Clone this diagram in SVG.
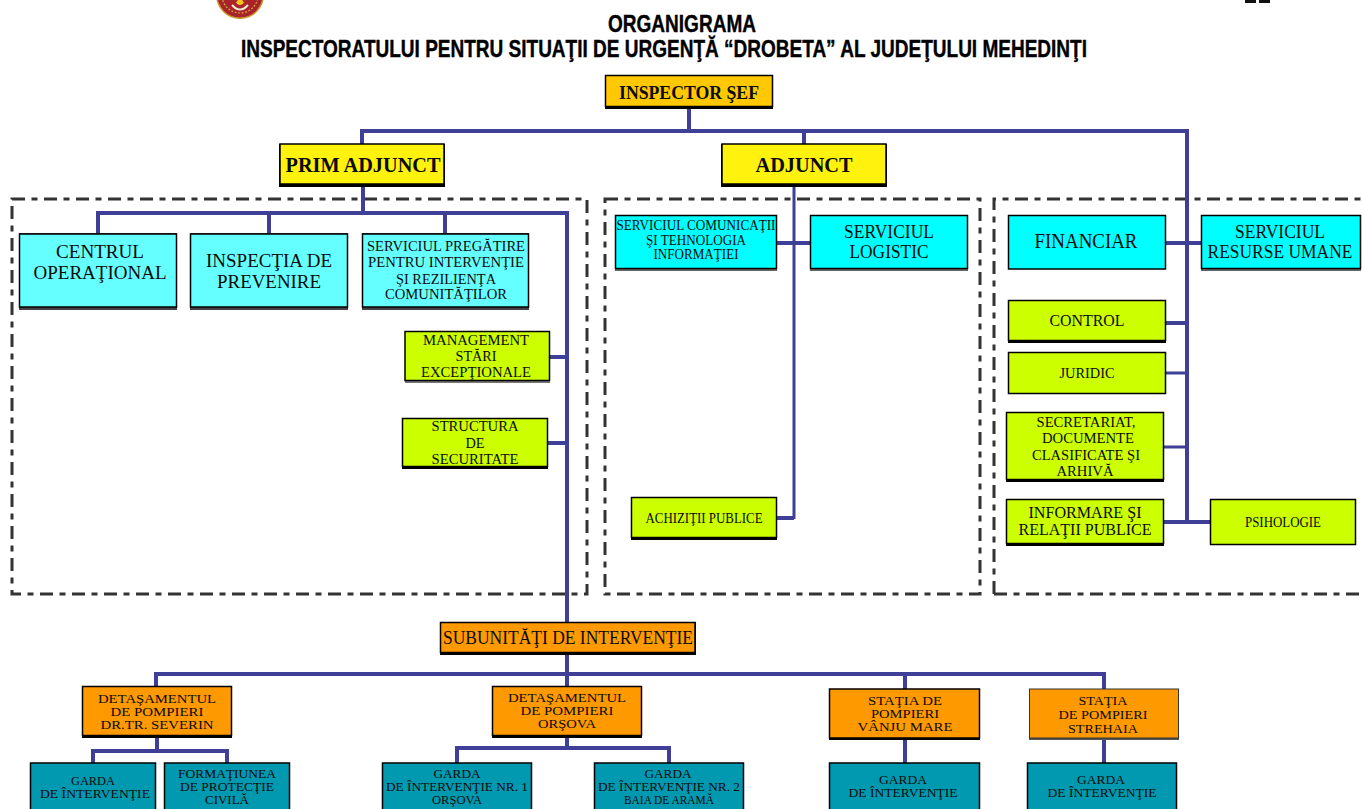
<svg xmlns="http://www.w3.org/2000/svg" width="1362" height="809" viewBox="0 0 1362 809">
<style>
text{font-family:"Liberation Serif","Times New Roman",serif;fill:#0a0a0a;text-anchor:middle}
.t{font-family:"Liberation Sans",Arial,sans-serif;font-weight:bold;font-size:24px;fill:#000;stroke:#000;stroke-width:.4}
.b{font-weight:bold}
.n{stroke:#000;stroke-width:1.5}
.s{fill:#000}
.y{fill:#fff20d}.g{fill:#ffc800}.c{fill:#66ffff}.a{fill:#00ffff}.l{fill:#ccff00}.o{fill:#ff9900}.e{fill:#0099b0}
#connectors path{fill:none;stroke:#3f3f98;stroke-width:4}
#connectors path.thin{stroke-width:3}
#frames path{fill:none;stroke:#333;stroke-width:3;stroke-dasharray:13 6.5 6 6.5}
</style>
<rect width="1362" height="809" fill="#fff"/>
<g id="emblem"><circle cx="240" cy="-5" r="24" fill="#c8962a"/><circle cx="240" cy="-5" r="22.5" fill="#a8232a"/><circle cx="240" cy="-5" r="18" fill="none" stroke="#d9a441" stroke-width="1.2" stroke-dasharray="2 1.5"/><path d="M233 -2Q240 12 247 -2L244 3L240 -4L236 3Z" fill="#f5c518"/><path d="M232 5Q240 14 248 5" fill="none" stroke="#f3ead0" stroke-width="2"/></g>
<g id="corner-mark"><rect x="1245" y="0" width="11" height="3" fill="#111"/><rect x="1259" y="0" width="11" height="3" fill="#111"/></g>
<text class="t" x="682" y="32" textLength="148" lengthAdjust="spacingAndGlyphs">ORGANIGRAMA</text>
<text class="t" x="664" y="57" textLength="846" lengthAdjust="spacingAndGlyphs">INSPECTORATULUI PENTRU SITUAŢII DE URGENŢĂ “DROBETA” AL JUDEŢULUI MEHEDINŢI</text>
<g id="frames">
<path d="M12 199H587V594H12Z"/>
<path d="M605 199H980V594H605Z"/>
<path d="M994 594V199H1362M994 594H1362"/>
</g>
<g id="connectors">
<path d="M689 108V131M362 144V131H1187V523M804 131V144"/>
<path d="M363 186V213M98 233V213H567V622M269 213V233M445 213V233"/>
<path d="M550 357H567M547 443H567"/>
<path d="M794 186V519" class="thin"/>
<path d="M777 243H810M777 518H794"/>
<path d="M1166 243H1201M1166 323H1187"/>
<path d="M1166 373H1187M1164 447H1187" class="thin"/>
<path d="M1164 522H1210"/>
<path d="M567 654V686M156 686V674H1104V689M905 674V689"/>
<path d="M157 737V751M93 763V751H227V763M567 737V748M457 763V748H669V763M905 739V763M1104 739V763"/>
</g>
<g id="inspector-sef"><rect class="s" x="605" y="76" width="168" height="33"/><rect class="n g" x="605.5" y="75.5" width="167" height="31"/><text class="b" x="689" y="99" font-size="19" textLength="140" lengthAdjust="spacingAndGlyphs">INSPECTOR ŞEF</text></g>
<g id="prim-adjunct"><rect class="s" x="279" y="144" width="166" height="43"/><rect class="n y" x="280" y="144" width="164" height="40"/><text class="b" x="363" y="172" font-size="21" textLength="155" lengthAdjust="spacingAndGlyphs">PRIM ADJUNCT</text></g>
<g id="adjunct"><rect class="s" x="721" y="144" width="166" height="43"/><rect class="n y" x="722" y="144" width="164" height="40"/><text class="b" x="804" y="172" font-size="21" textLength="97" lengthAdjust="spacingAndGlyphs">ADJUNCT</text></g>
<g id="centrul"><rect x="19" y="233" width="158" height="77" fill="#444"/><rect class="n c" x="19.5" y="234" width="157" height="73"/><text x="100" y="258" font-size="19" textLength="88" lengthAdjust="spacingAndGlyphs">CENTRUL</text><text x="100" y="279" font-size="19" textLength="133" lengthAdjust="spacingAndGlyphs">OPERAŢIONAL</text></g>
<g id="inspectia"><rect x="190" y="233" width="158" height="77" fill="#444"/><rect class="n c" x="190.5" y="234" width="157" height="73"/><text x="269" y="267" font-size="19" textLength="126" lengthAdjust="spacingAndGlyphs">INSPECŢIA DE</text><text x="269" y="288" font-size="19" textLength="104" lengthAdjust="spacingAndGlyphs">PREVENIRE</text></g>
<g id="pregatire"><rect x="362" y="233" width="167" height="77" fill="#444"/><rect class="n c" x="362.5" y="234" width="166" height="73"/><text x="446" y="251" font-size="14" textLength="158" lengthAdjust="spacingAndGlyphs">SERVICIUL PREGĂTIRE</text><text x="446" y="267" font-size="14" textLength="156" lengthAdjust="spacingAndGlyphs">PENTRU INTERVENŢIE</text><text x="446" y="284" font-size="14" textLength="100" lengthAdjust="spacingAndGlyphs">ŞI REZILIENŢA</text><text x="446" y="299" font-size="14" textLength="122" lengthAdjust="spacingAndGlyphs">COMUNITĂŢILOR</text></g>
<g id="management"><rect x="405" y="331" width="145" height="52" fill="#777"/><rect class="n l" x="405" y="331.5" width="144.5" height="49"/><text x="476" y="345" font-size="15" textLength="106" lengthAdjust="spacingAndGlyphs">MANAGEMENT</text><text x="476" y="361" font-size="15" textLength="41" lengthAdjust="spacingAndGlyphs">STĂRI</text><text x="476" y="377" font-size="15" textLength="110" lengthAdjust="spacingAndGlyphs">EXCEPŢIONALE</text></g>
<g id="structura"><rect class="s" x="402" y="418" width="146" height="51"/><rect class="n l" x="402.5" y="418.5" width="145" height="48"/><text x="475" y="431" font-size="15" textLength="87" lengthAdjust="spacingAndGlyphs">STRUCTURA</text><text x="475" y="448" font-size="15" textLength="19" lengthAdjust="spacingAndGlyphs">DE</text><text x="475" y="464" font-size="15" textLength="87" lengthAdjust="spacingAndGlyphs">SECURITATE</text></g>
<g id="comunicatii"><rect x="615" y="215" width="162" height="56" fill="#666"/><rect class="n a" x="615.5" y="215.5" width="161" height="53"/><text x="696" y="230" font-size="14" textLength="159" lengthAdjust="spacingAndGlyphs">SERVICIUL COMUNICAŢII</text><text x="696" y="244.500" font-size="14" textLength="100" lengthAdjust="spacingAndGlyphs">ŞI TEHNOLOGIA</text><text x="696" y="259" font-size="14" textLength="85" lengthAdjust="spacingAndGlyphs">INFORMAŢIEI</text></g>
<g id="logistic"><rect x="810" y="215" width="158" height="56" fill="#666"/><rect class="n a" x="810.5" y="215.5" width="157" height="53"/><text x="889" y="238" font-size="18" textLength="90" lengthAdjust="spacingAndGlyphs">SERVICIUL</text><text x="889" y="258" font-size="18" textLength="79" lengthAdjust="spacingAndGlyphs">LOGISTIC</text></g>
<g id="achizitii"><rect class="s" x="631" y="497" width="146" height="43"/><rect class="n l" x="631.5" y="497.5" width="145" height="40"/><text x="704" y="523" font-size="15" textLength="117" lengthAdjust="spacingAndGlyphs">ACHIZIŢII PUBLICE</text></g>
<g id="financiar"><rect class="n a" x="1008.5" y="215.5" width="157" height="53.5"/><text x="1086" y="248" font-size="20" textLength="103" lengthAdjust="spacingAndGlyphs">FINANCIAR</text></g>
<g id="resurse"><rect x="1201" y="215" width="160" height="56" fill="#666"/><rect class="n a" x="1201.5" y="215.5" width="159" height="53"/><text x="1280" y="238" font-size="18" textLength="90" lengthAdjust="spacingAndGlyphs">SERVICIUL</text><text x="1280" y="258" font-size="18" textLength="145" lengthAdjust="spacingAndGlyphs">RESURSE UMANE</text></g>
<g id="control"><rect class="s" x="1008" y="300" width="158" height="43"/><rect class="n l" x="1008.5" y="300.5" width="157" height="40"/><text x="1087" y="326" font-size="16" textLength="75" lengthAdjust="spacingAndGlyphs">CONTROL</text></g>
<g id="juridic"><rect class="n l" x="1008.5" y="352.5" width="157" height="41"/><text x="1087" y="378" font-size="15" textLength="55" lengthAdjust="spacingAndGlyphs">JURIDIC</text></g>
<g id="secretariat"><rect class="s" x="1006" y="412" width="158" height="70"/><rect class="n l" x="1006.5" y="412.500" width="157" height="67"/><text x="1086" y="427" font-size="15" textLength="99" lengthAdjust="spacingAndGlyphs">SECRETARIAT,</text><text x="1088" y="443" font-size="15" textLength="92" lengthAdjust="spacingAndGlyphs">DOCUMENTE</text><text x="1086" y="460" font-size="15" textLength="108" lengthAdjust="spacingAndGlyphs">CLASIFICATE ŞI</text><text x="1085" y="476" font-size="15" textLength="57" lengthAdjust="spacingAndGlyphs">ARHIVĂ</text></g>
<g id="informare"><rect class="s" x="1006" y="499" width="158" height="47"/><rect class="n l" x="1006.5" y="499.5" width="157" height="44"/><text x="1085" y="518" font-size="16" textLength="113" lengthAdjust="spacingAndGlyphs">INFORMARE ŞI</text><text x="1085" y="535" font-size="16" textLength="133" lengthAdjust="spacingAndGlyphs">RELAŢII PUBLICE</text></g>
<g id="psihologie"><rect class="n l" x="1210.5" y="499.5" width="145" height="45"/><text x="1283" y="527" font-size="15" textLength="76" lengthAdjust="spacingAndGlyphs">PSIHOLOGIE</text></g>
<g id="subunitati"><rect class="s" x="440" y="622" width="256" height="33"/><rect class="n o" x="440.5" y="622.5" width="254.5" height="30"/><text x="568" y="644" font-size="19" textLength="250" lengthAdjust="spacingAndGlyphs">SUBUNITĂŢI DE INTERVENŢIE</text></g>
<g id="det-severin"><rect class="s" x="82" y="686" width="150" height="52"/><rect class="n o" x="82.5" y="686.5" width="149" height="49"/><text x="157" y="703" font-size="13" textLength="118" lengthAdjust="spacingAndGlyphs">DETAŞAMENTUL</text><text x="157" y="716" font-size="13" textLength="93" lengthAdjust="spacingAndGlyphs">DE POMPIERI</text><text x="157" y="729" font-size="13" textLength="113" lengthAdjust="spacingAndGlyphs">DR.TR. SEVERIN</text></g>
<g id="det-orsova"><rect class="s" x="492" y="686" width="150" height="52"/><rect class="n o" x="492.5" y="686.5" width="149" height="49"/><text x="567" y="702" font-size="13" textLength="118" lengthAdjust="spacingAndGlyphs">DETAŞAMENTUL</text><text x="567" y="715" font-size="13" textLength="93" lengthAdjust="spacingAndGlyphs">DE POMPIERI</text><text x="567" y="728" font-size="13" textLength="58" lengthAdjust="spacingAndGlyphs">ORŞOVA</text></g>
<g id="st-vanju"><rect class="s" x="829" y="689" width="151" height="51"/><rect class="n o" x="829.5" y="689" width="150" height="49"/><text x="905" y="705" font-size="13" textLength="74" lengthAdjust="spacingAndGlyphs">STAŢIA DE</text><text x="905" y="718" font-size="13" textLength="68" lengthAdjust="spacingAndGlyphs">POMPIERI</text><text x="905" y="731" font-size="13" textLength="95" lengthAdjust="spacingAndGlyphs">VÂNJU MARE</text></g>
<g id="st-strehaia"><rect x="1029" y="689" width="150" height="51" fill="#555"/><rect class="o" x="1029.5" y="689" width="149" height="49" stroke="#333"/><text x="1103" y="705" font-size="13" textLength="49" lengthAdjust="spacingAndGlyphs">STAŢIA</text><text x="1103" y="719" font-size="13" textLength="89" lengthAdjust="spacingAndGlyphs">DE POMPIERI</text><text x="1103" y="733" font-size="13" textLength="70" lengthAdjust="spacingAndGlyphs">STREHAIA</text></g>
<g id="garda-severin"><rect class="n e" x="30.5" y="763" width="125" height="50"/><text x="93" y="785" font-size="13" textLength="44" lengthAdjust="spacingAndGlyphs">GARDA</text><text x="95" y="798" font-size="13" textLength="110" lengthAdjust="spacingAndGlyphs">DE ÎNTERVENŢIE</text></g>
<g id="formatiunea"><rect class="n e" x="164.5" y="763" width="125" height="50"/><text x="227" y="778" font-size="13" textLength="98" lengthAdjust="spacingAndGlyphs">FORMAŢIUNEA</text><text x="227" y="791" font-size="13" textLength="94" lengthAdjust="spacingAndGlyphs">DE PROTECŢIE</text><text x="227" y="804" font-size="13" textLength="44" lengthAdjust="spacingAndGlyphs">CIVILĂ</text></g>
<g id="garda-1"><rect class="n e" x="382.5" y="763" width="149" height="50"/><text x="457" y="778" font-size="13" textLength="47" lengthAdjust="spacingAndGlyphs">GARDA</text><text x="457" y="791" font-size="13" textLength="142" lengthAdjust="spacingAndGlyphs">DE ÎNTERVENŢIE NR. 1</text><text x="457" y="804" font-size="13" textLength="50" lengthAdjust="spacingAndGlyphs">ORŞOVA</text></g>
<g id="garda-2"><rect class="n e" x="594.5" y="763" width="149" height="50"/><text x="668" y="778" font-size="13" textLength="47" lengthAdjust="spacingAndGlyphs">GARDA</text><text x="669" y="791" font-size="13" textLength="142" lengthAdjust="spacingAndGlyphs">DE ÎNTERVENŢIE NR. 2</text><text x="669" y="804" font-size="13" textLength="90" lengthAdjust="spacingAndGlyphs">BAIA DE ARAMĂ</text></g>
<g id="garda-vanju"><rect class="n e" x="829.5" y="763" width="150" height="50"/><text x="903" y="784" font-size="13" textLength="48" lengthAdjust="spacingAndGlyphs">GARDA</text><text x="903" y="797" font-size="13" textLength="109" lengthAdjust="spacingAndGlyphs">DE ÎNTERVENŢIE</text></g>
<g id="garda-strehaia"><rect class="n e" x="1027.5" y="763" width="149" height="50"/><text x="1101" y="784" font-size="13" textLength="48" lengthAdjust="spacingAndGlyphs">GARDA</text><text x="1102" y="797" font-size="13" textLength="109" lengthAdjust="spacingAndGlyphs">DE ÎNTERVENŢIE</text></g>
</svg>
